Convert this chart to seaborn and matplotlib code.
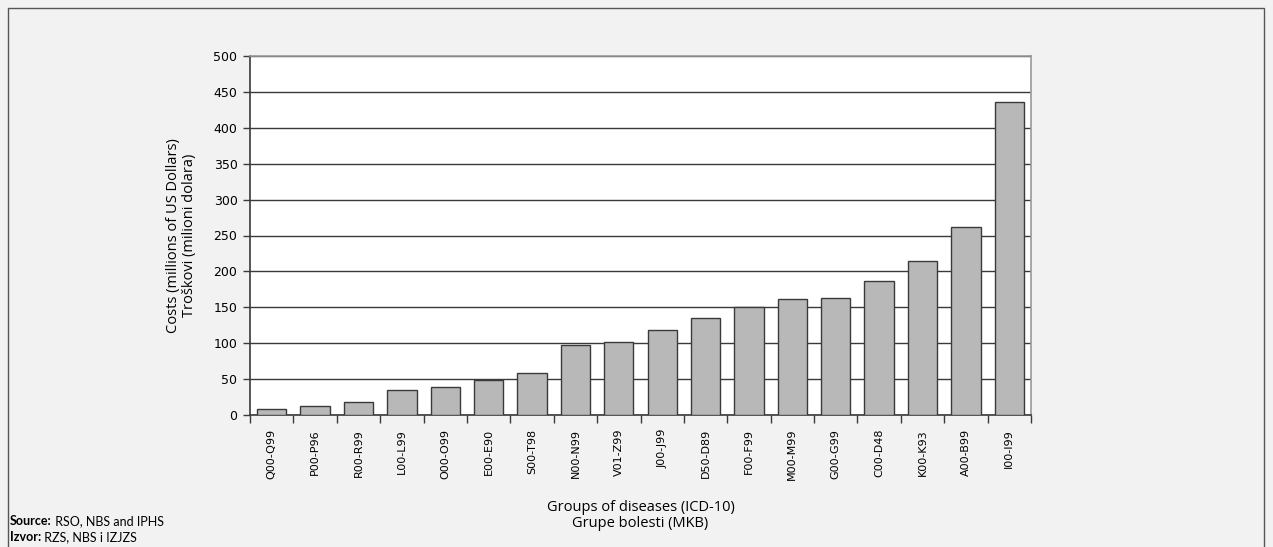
import matplotlib
matplotlib.use("Agg")
import matplotlib.pyplot as plt
import matplotlib.patches as mpatches
import numpy as np
import pandas as pd
import seaborn as sns

categories = ["Q00-Q99", "P00-P96", "R00-R99", "L00-L99", "O00-O99", "E00-E90",
              "S00-T98", "N00-N99", "V01-Z99", "J00-J99", "D50-D89", "F00-F99",
              "M00-M99", "G00-G99", "C00-D48", "K00-K93", "A00-B99", "I00-I99"]
costs = [9, 12, 18, 35, 39, 49, 59, 97, 101, 119, 135, 151, 162, 163, 187, 214, 262, 436]
y_ticks = list(range(0, 501, 50))

bg = "#f2f2f2"

plt.rcParams["font.family"] = ["Open Sans", "DejaVu Sans"]

fig = plt.figure(figsize=(12.73, 5.47), dpi=100, facecolor=bg)
ax = fig.add_axes([250 / 1273, 1 - 415 / 547, 781 / 1273, 359 / 547])
ax.set_facecolor("white")

df = pd.DataFrame({"group": categories, "cost": costs})
sns.barplot(data=df, x="group", y="cost", ax=ax, color="#b8b8b8", saturation=1,
            edgecolor="#3a3a3a", linewidth=1.0, width=0.675, zorder=3)

ax.set_ylim(0, 500)
ax.set_xlim(-0.5, len(categories) - 0.5)
ax.set_yticks(y_ticks)
ax.set_yticklabels([str(t) for t in y_ticks], fontsize=9, family="DejaVu Sans")
ax.yaxis.grid(True, color="#3a3a3a", linewidth=1.0, zorder=0)
ax.set_axisbelow(True)

ax.set_xticks(range(len(categories)))
ax.set_xticklabels(categories, rotation=90, fontsize=8, family="DejaVu Sans")
ax.set_xticks(np.arange(-0.5, len(categories), 1), minor=True)
ax.tick_params(axis="x", which="major", length=0, pad=10)
ax.tick_params(axis="x", which="minor", length=6, width=1, color="#3a3a3a")
ax.tick_params(axis="y", length=5, width=1, color="#3a3a3a", pad=4)

for side in ["left", "bottom"]:
    ax.spines[side].set_color("#3a3a3a")
    ax.spines[side].set_linewidth(1.2)
for side in ["top", "right"]:
    ax.spines[side].set_color("#999999")
    ax.spines[side].set_linewidth(1.2)

ax.set_xlabel("Groups of diseases (ICD-10)\nGrupe bolesti (MKB)", fontsize=10.5, labelpad=14,
              linespacing=1.1)
ax.set_ylabel("Costs (millions of US Dollars)\nTroškovi (milioni dolara)", fontsize=10.5,
              labelpad=12, linespacing=1.1)

frame = mpatches.Rectangle((8 / 1273, -0.05), 1256 / 1273, 1.05 - 8 / 547,
                           transform=fig.transFigure, fill=False,
                           edgecolor="#555555", linewidth=1.0, clip_on=False)
fig.patches.append(frame)

renderer = fig.canvas.get_renderer()
for y_px, head, rest in [(521, "Source:", " RSO, NBS and IPHS"), (537, "Izvor:", " RZS, NBS i IZJZS")]:
    t = fig.text(10 / 1273, 1 - y_px / 547, head, fontsize=9, fontweight="bold",
                 family="Lato", va="center", ha="left")
    bb = t.get_window_extent(renderer=renderer)
    fig.text(bb.x1 / fig.bbox.width, 1 - y_px / 547, rest, fontsize=9, family="Lato",
             va="center", ha="left")

fig.savefig("out.png", dpi=100, facecolor=bg)
